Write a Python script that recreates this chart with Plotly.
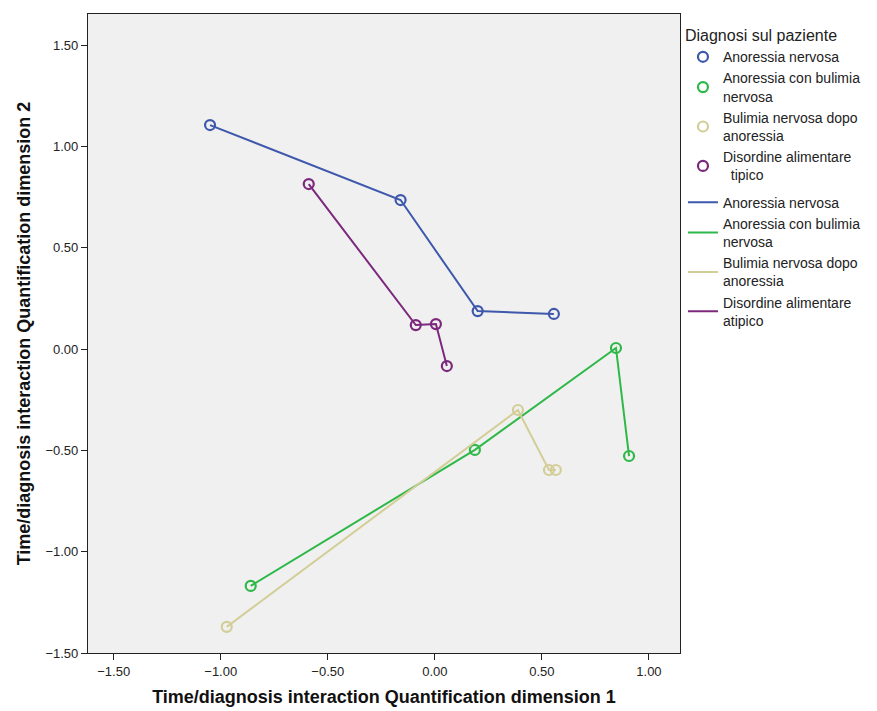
import plotly.graph_objects as go

groups_marker = ["Anoressia nervosa", "Anoressia con bulimia<br>nervosa",
                 "Bulimia nervosa dopo<br>anoressia", "Disordine alimentare<br>  tipico"]
groups_line = ["Anoressia nervosa", "Anoressia con bulimia<br>nervosa",
               "Bulimia nervosa dopo<br>anoressia", "Disordine alimentare<br>atipico"]
colors = ["#3E58AC", "#2EB848", "#D3CE97", "#7C287D"]

an_x = [-1.05, -0.16, 0.20, 0.556]
an_y = [1.105, 0.735, 0.187, 0.173]
acb_x = [-0.86, 0.187, 0.846, 0.907]
acb_y = [-1.169, -0.498, 0.005, -0.528]
bnda_x = [-0.972, 0.388, 0.533, 0.565]
bnda_y = [-1.371, -0.301, -0.597, -0.597]
dat_x = [-0.589, -0.089, 0.005, 0.056]
dat_y = [0.814, 0.118, 0.123, -0.084]

xs = [an_x, acb_x, bnda_x, dat_x]
ys = [an_y, acb_y, bnda_y, dat_y]

x_ticks = [-1.5, -1.0, -0.5, 0.0, 0.5, 1.0]
y_ticks = [-1.5, -1.0, -0.5, 0.0, 0.5, 1.0, 1.5]

fig = go.Figure()
for i in range(4):
    fig.add_trace(go.Scatter(
        x=xs[i], y=ys[i], mode="markers", name=groups_marker[i],
        legendgroup="m", legendrank=i,
        marker=dict(symbol="circle-open", size=10, color=colors[i], line=dict(width=2.2, color=colors[i])),
    ))
for i in range(4):
    fig.add_trace(go.Scatter(
        x=xs[i], y=ys[i], mode="lines", name=groups_line[i],
        legendgroup="l", legendrank=10 + i,
        line=dict(color=colors[i], width=2),
    ))

fig.update_layout(
    width=877, height=711,
    margin=dict(l=80, r=205, t=6, b=66),
    paper_bgcolor="white", plot_bgcolor="#F0F0F0",
    font=dict(family="Liberation Sans, Arial, sans-serif", size=13, color="#222"),
    legend=dict(
        title=dict(text="Diagnosi sul paziente", font=dict(size=16, color="#222")),
        x=1.005, xanchor="left", y=0.99, yanchor="top",
        font=dict(size=14, color="#222"),
        tracegroupgap=6, traceorder="grouped",
        itemsizing="trace", bgcolor="rgba(0,0,0,0)",
        itemwidth=30,
    ),
    xaxis=dict(
        range=[-1.62, 1.145], tickvals=x_ticks, tickformat=".2f",
        ticks="outside", ticklen=6, tickcolor="#222",
        showgrid=False, zeroline=False,
        showline=True, linecolor="#222", linewidth=1.2, mirror=True,
        tickfont=dict(size=13),
        title=dict(text="<b>Time/diagnosis interaction Quantification dimension 1</b>",
                   font=dict(size=18, color="#111"), standoff=12),
    ),
    yaxis=dict(
        range=[-1.5, 1.653], tickvals=y_ticks, tickformat=".2f",
        ticks="outside", ticklen=6, tickcolor="#222",
        showgrid=False, zeroline=False,
        showline=True, linecolor="#222", linewidth=1.2, mirror=True,
        tickfont=dict(size=13),
        title=dict(text="<b>Time/diagnosis interaction Quantification dimension 2</b>",
                   font=dict(size=18, color="#111"), standoff=10),
    ),
)

fig.write_html("out.html")
